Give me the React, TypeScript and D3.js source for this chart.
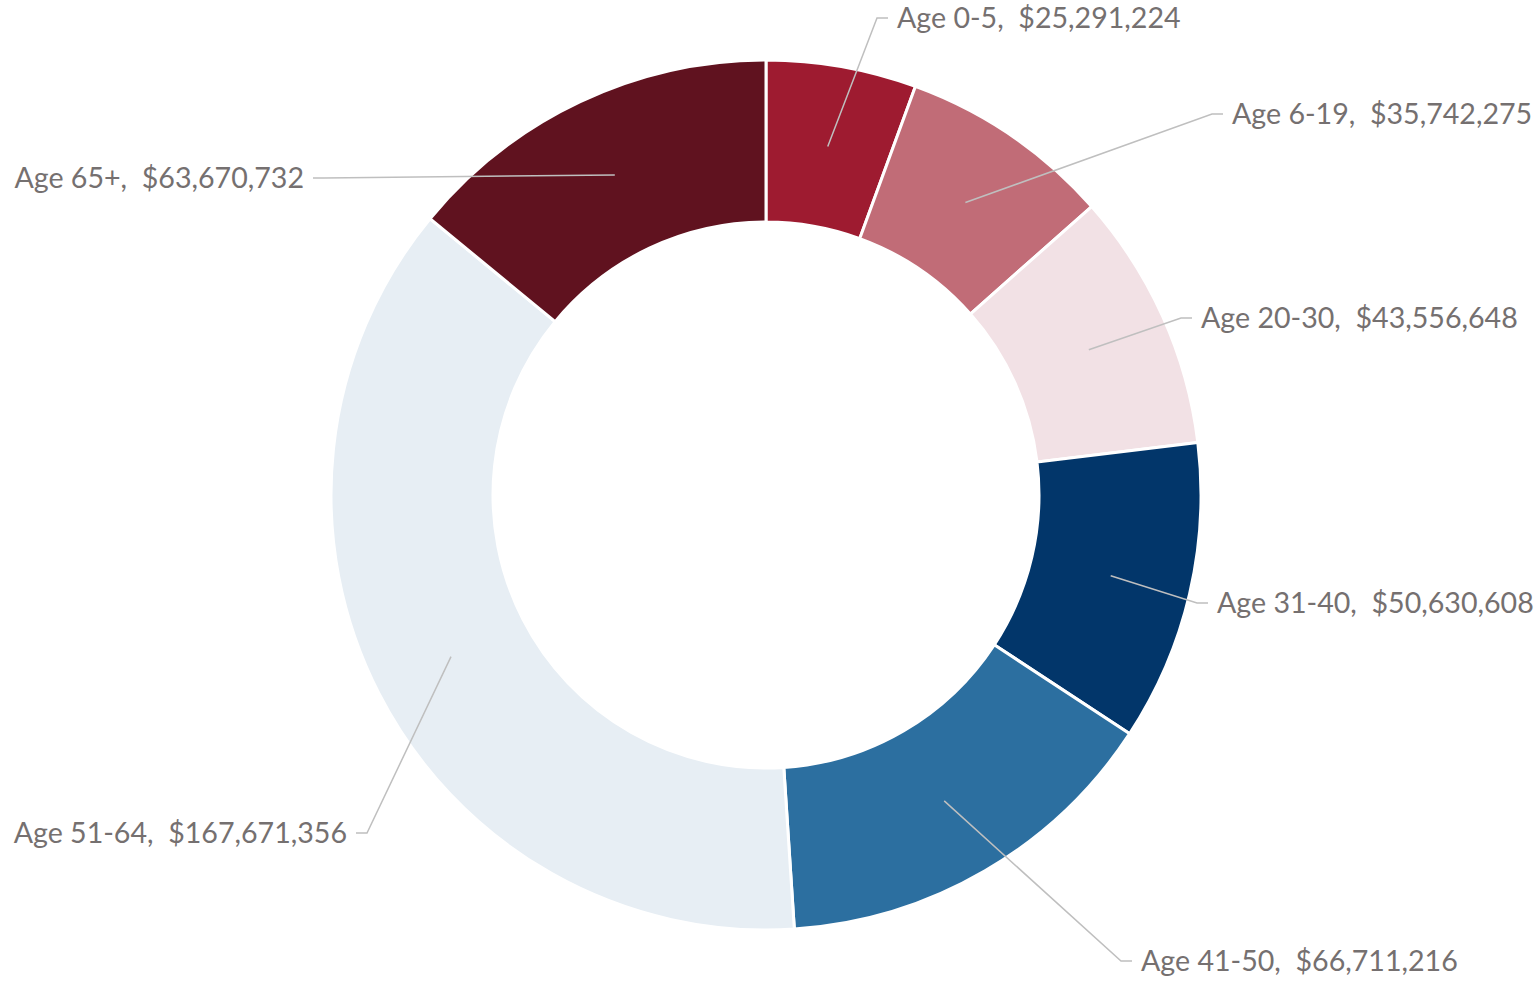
import React from 'react';
import * as d3 from 'd3';

// chart data
const categories = ['Age 0-5', 'Age 6-19', 'Age 20-30', 'Age 31-40', 'Age 41-50', 'Age 51-64', 'Age 65+'];
const amounts = [25291224, 35742275, 43556648, 50630608, 66711216, 167671356, 63670732];
const colors = ['#9E1B30', '#C16C77', '#F2E1E5', '#02366A', '#2C6FA0', '#E7EEF4', '#60121F'];

// label layout (text anchor x, leader line y, side)
const labelX = [897, 1232, 1201, 1217, 1141, 347, 304];
const labelY = [18, 114, 318, 603, 961, 833, 178];
const labelSide = ['right', 'right', 'right', 'right', 'right', 'left', 'left'];

const width = 1539;
const height = 981;
const cx = 766;
const cy = 495;
const outerR = 435;
const innerR = 273;

const fmt = d3.format('$,');

export default function App() {
  const pie = d3.pie<number>().sort(null).value(d => d);
  const arcs = pie(amounts);
  const arc = d3.arc<d3.PieArcDatum<number>>().innerRadius(innerR).outerRadius(outerR);

  return (
    <svg
      width={width}
      height={height}
      style={{ position: 'absolute', left: 0, top: 0, background: '#fff' }}
      fontFamily="Lato, 'Open Sans', sans-serif"
    >
      <g transform={`translate(${cx},${cy})`}>
        {arcs.map((a, i) => (
          <path key={i} d={arc(a) || ''} fill={colors[i]} stroke="#fff" strokeWidth={3} />
        ))}
      </g>
      {arcs.map((a, i) => {
        const [px, py] = arc.centroid(a);
        const dir = labelSide[i] === 'right' ? 1 : -1;
        const elbowX = labelX[i] - dir * 20;
        const endX = labelX[i] - dir * 9;
        const pts: [number, number][] = [
          [cx + px, cy + py],
          [elbowX, labelY[i]],
          [endX, labelY[i]],
        ];
        return (
          <g key={i}>
            <path d={d3.line()(pts) || ''} fill="none" stroke="#BFBFBF" strokeWidth={1.5} />
            <text
              x={labelX[i]}
              y={labelY[i] + 10}
              textAnchor={dir === 1 ? 'start' : 'end'}
              fontSize={28.6}
              fill="#757070"
              style={{ whiteSpace: 'pre' }}
            >
              {`${categories[i]},  ${fmt(amounts[i])}`}
            </text>
          </g>
        );
      })}
    </svg>
  );
}
